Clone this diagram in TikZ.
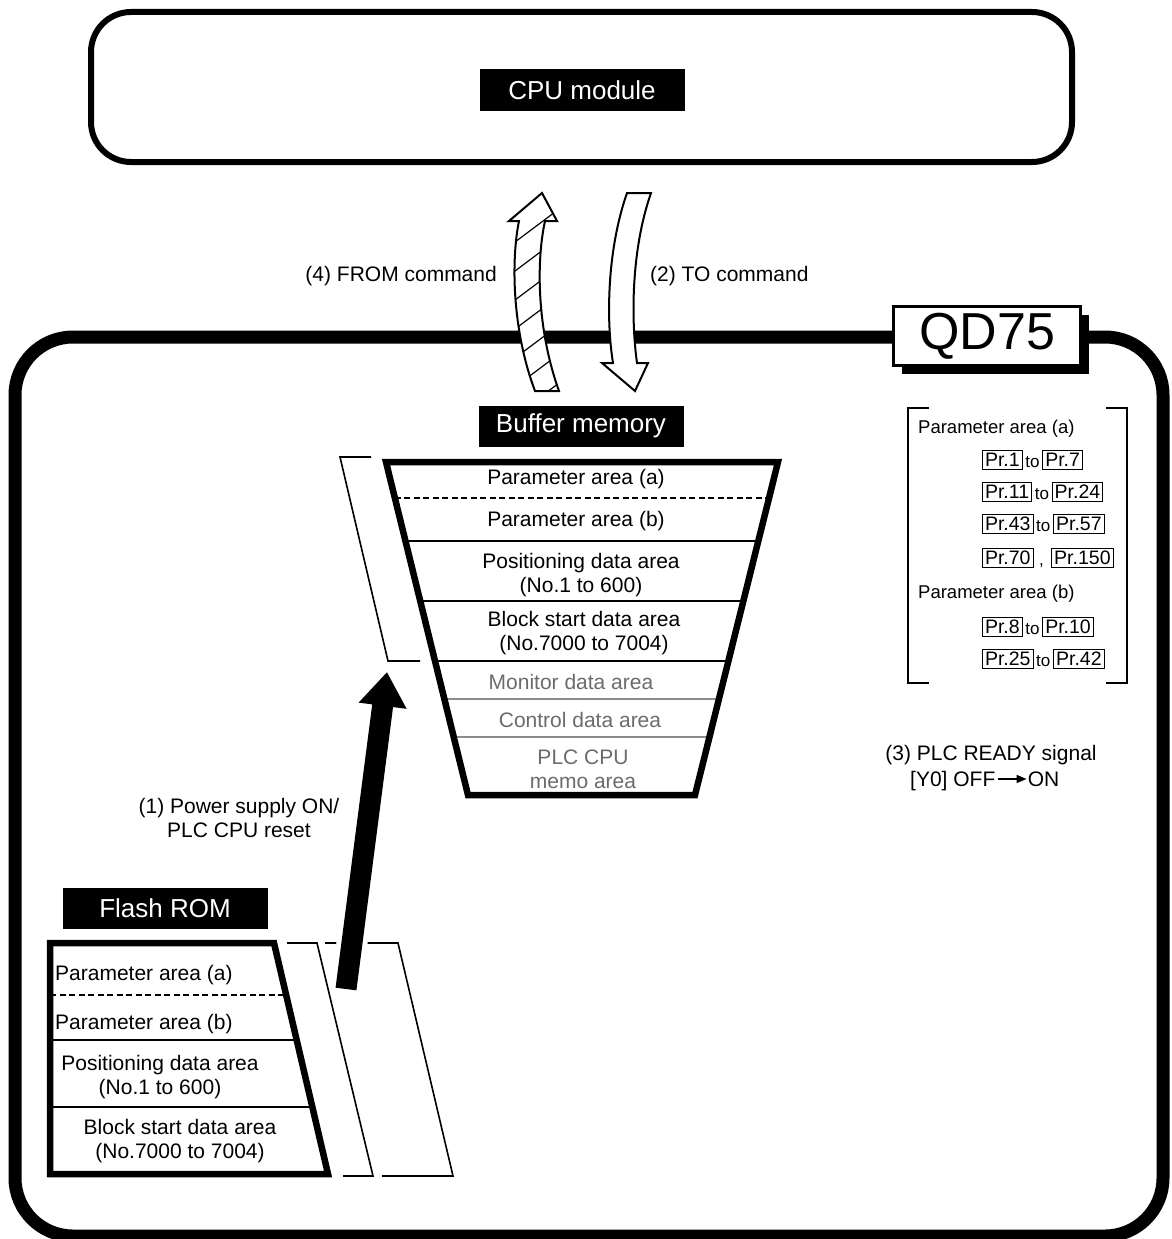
\documentclass[tikz,border=0pt]{standalone}
\usepackage{fontspec}
\setmainfont{Liberation Sans}
\usetikzlibrary{arrows.meta,positioning,calc,shadows}
\definecolor{greytext}{gray}{0.42}
\definecolor{greyline}{gray}{0.55}
\newcommand{\fsz}[2]{\fontsize{#1}{#2}\selectfont}
\newcommand{\fromarrowpath}{(535,391) .. controls (512,330) and (511,260) .. (519,221) -- (509,221) -- (542,193) -- (557,221) -- (545,221) .. controls (536,262) and (537,330) .. (559,391) -- cycle}

\begin{document}
\begin{tikzpicture}[x=1pt,y=-1pt,>=Latex,
  lbl/.style={fill=black,text=white,minimum width=205pt,minimum height=41pt,inner sep=0pt,font=\fsz{26}{30}},
  area/.style={align=center,inner sep=0pt,font=\fsz{21}{24}},
  dimarea/.style={area,text=greytext},
  note/.style={align=center,inner sep=0pt,font=\fsz{21}{24}},
  listnote/.style={inner sep=0pt,font=\fsz{18.5}{21}},
  pr/.style={draw,line width=1pt,inner xsep=2.5pt,inner ysep=2.5pt,font=\fsz{19.5}{22}},
  prsep/.style={inner xsep=2.5pt,inner ysep=0pt,font=\fsz{17}{18}},
  memframe/.style={line width=6.5pt},
  rowline/.style={line width=2pt},
  rowdash/.style={line width=2pt,dash pattern=on 6pt off 3.5pt},
  rowgrey/.style={line width=2pt,draw=greyline},
  guide/.style={line width=1.6pt},
  cmdarrow/.style={fill=white,draw,line width=2pt}]

\useasboundingbox (0,0) rectangle (1171,1239);

% CPU module
\draw[line width=6pt,rounded corners=40pt] (91,12) rectangle (1072,162);
\node[lbl] (cpu) at (582,90) {CPU module};

% QD75 frame
\draw[line width=13pt,rounded corners=58pt] (15,337) rectangle (1163,1236);
\node[draw,fill=white,line width=2.5pt,minimum width=187pt,minimum height=59pt,inner sep=0pt,font=\fsz{52}{56},
  drop shadow={shadow xshift=8pt,shadow yshift=-8pt,opacity=1,fill=black}] (qd) at (987,336) {QD75};

% TO command arrow
\draw[cmdarrow] (627,193) .. controls (607,250) and (606,320) .. (613,363) -- (602,363) -- (635,391)
  -- (648,363) -- (637,363) .. controls (631,320) and (631,250) .. (651,193) -- cycle;
% FROM command arrow, hatched
\fill[white] \fromarrowpath;
\begin{scope}
  \clip \fromarrowpath;
  \foreach \hy in {199,228,...,470}
    \draw[line width=1.2pt] (495,\hy) -- ++(80,-60);
\end{scope}
\draw[line width=2pt] \fromarrowpath;
\node[note,anchor=east] (fromlbl) at (497,276) {(4) FROM command};
\node[note,anchor=west] (tolbl) at (650,276) {(2) TO command};

% buffer memory
\node[lbl] (buf) at (581,426) {Buffer memory};
\coordinate (btl) at (386,462);
\coordinate (btr) at (778,462);
\coordinate (bbr) at (695,795);
\coordinate (bbl) at (468,795);
\foreach \yy/\sty [evaluate=\yy as \fr using (\yy-462)/333] in {498/rowdash,541/rowline,601/rowline,661/rowline,699/rowgrey,737/rowgrey}
  \draw[\sty] ($(btl)!\fr!(bbl)$) -- ($(btr)!\fr!(bbr)$);
\draw[memframe] (btl) -- (btr) -- (bbr) -- (bbl) -- cycle;
\node[area] (bpa) at (576,479) {Parameter area (a)};
\node[area] (bpb) at (576,521) {Parameter area (b)};
\node[area] (bpos) at (581,575) {Positioning data area\\(No.1 to 600)};
\node[area] (bblk) at (584,633) {Block start data area\\(No.7000 to 7004)};
\node[dimarea] (bmon) at (571,682) {Monitor data area};
\node[dimarea] (bctl) at (580,720) {Control data area};
\node[dimarea] (bmemo) at (583,769) {PLC CPU\\memo area};
\draw[guide] (371,457) -- (340,457) -- (388,661) -- (420,661);

% flash ROM
\node[lbl] (flash) at (165,908) {Flash ROM};
\coordinate (ftl) at (50,943);
\coordinate (ftr) at (274,943);
\coordinate (fbr) at (328,1174);
\coordinate (fbl) at (50,1174);
\foreach \yy/\sty [evaluate=\yy as \fr using (\yy-943)/231] in {995/rowdash,1040/rowline,1107/rowline}
  \draw[\sty] ($(ftl)!\fr!(fbl)$) -- ($(ftr)!\fr!(fbr)$);
\draw[memframe] (ftl) -- (ftr) -- (fbr) -- (fbl) -- cycle;
\node[area,anchor=west] (fpa) at (55,975) {Parameter area (a)};
\node[area,anchor=west] (fpb) at (55,1024) {Parameter area (b)};
\node[area] (fpos) at (160,1077) {Positioning data area\\(No.1 to 600)};
\node[area] (fblk) at (180,1141) {Block start data area\\(No.7000 to 7004)};
\draw[guide] (287,943) -- (317,943) -- (373,1176) -- (343,1176);
\draw[guide] (325,943) -- (398,943) -- (453,1176) -- (382,1176);

% (1) power supply arrow
\coordinate (pwtail) at (346,989);
\coordinate (pwtip) at (387,672);
\draw[white,line width=31pt] ($(pwtail)!0.08!(pwtip)$) -- ($(pwtail)!0.25!(pwtip)$);
\draw[line width=21pt,-{Triangle[length=34pt,width=46pt]}] (pwtail) -- (pwtip);
\node[note] (pwlbl) at (239,818) {(1) Power supply ON/\\PLC CPU reset};

% parameter list
\draw[line width=2pt] (929,408) -| (908,683) -- (929,683);
\draw[line width=2pt] (1106,408) -| (1127,683) -- (1106,683);
\node[listnote,anchor=west] (lpa) at (918,429) {Parameter area (a)};
\node[listnote,anchor=west] (lpb) at (918,594) {Parameter area (b)};
\foreach \yy/\pra/\sepw/\prb [count=\i] in {460/Pr.1/to/Pr.7,492/Pr.11/to/Pr.24,524/Pr.43/to/Pr.57,558/Pr.70/{\,,\ \ }/Pr.150,627/Pr.8/to/Pr.10,659/Pr.25/to/Pr.42}{
  \node[pr,anchor=west] (pa\i) at (982,\yy) {\pra};
  \node[prsep,base right=0pt of pa\i,yshift=-1pt] (ps\i) {\sepw};
  \node[pr,base right=0pt of ps\i,yshift=1pt] (pb\i) {\prb};
}

% (3) PLC READY
\node[note] (rdy) at (991,755) {(3) PLC READY signal};
\node[note,anchor=west,text height=17pt,text depth=2pt] (off) at (910,779) {[Y0] OFF};
\node[note,right=32pt of off,text height=17pt,text depth=2pt] (on) {ON};
\draw[line width=1.5pt,shorten <=2pt,shorten >=1pt,-{Triangle[length=10pt,width=8pt]}] (off) -- (on);
\end{tikzpicture}
\end{document}
